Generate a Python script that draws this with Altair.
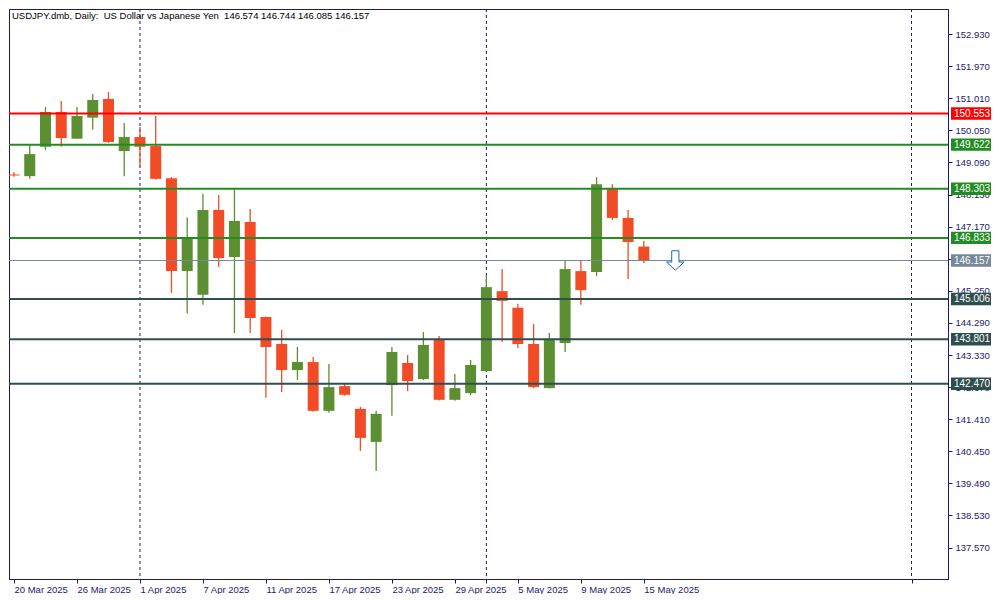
import altair as alt
import pandas as pd

# ---- data ----
dates = ["20 Mar", "21 Mar", "24 Mar", "25 Mar", "26 Mar", "27 Mar", "28 Mar", "31 Mar",
         "1 Apr", "2 Apr", "3 Apr", "4 Apr", "7 Apr", "8 Apr", "9 Apr", "10 Apr",
         "11 Apr", "14 Apr", "15 Apr", "16 Apr", "17 Apr", "18 Apr", "21 Apr", "22 Apr",
         "23 Apr", "24 Apr", "25 Apr", "28 Apr", "29 Apr", "30 Apr", "1 May", "2 May",
         "5 May", "6 May", "7 May", "8 May", "9 May", "12 May", "13 May", "14 May", "15 May"]
opens = [148.73, 148.68, 149.56, 150.60, 149.80, 150.43, 150.99, 149.43,
         149.85, 149.58, 148.62, 145.84, 145.13, 147.67, 146.26, 147.31,
         144.47, 143.66, 142.88, 143.12, 141.66, 142.40, 141.72, 140.73,
         142.43, 143.09, 142.61, 143.78, 141.99, 142.19, 142.85, 145.24,
         144.74, 143.66, 142.34, 143.69, 145.84, 145.81, 148.29, 147.43, 146.574]
highs = [148.80, 149.63, 150.75, 150.93, 150.75, 151.14, 151.20, 150.27,
         150.15, 150.48, 148.65, 147.44, 148.15, 148.12, 148.30, 147.70,
         144.48, 144.08, 143.57, 143.27, 143.06, 142.46, 141.78, 141.66,
         143.57, 143.33, 144.02, 143.90, 142.76, 143.18, 145.72, 145.90,
         144.86, 144.26, 143.99, 146.17, 146.17, 148.65, 148.44, 147.67, 146.744]
lows = [148.66, 148.60, 149.46, 149.56, 149.79, 150.07, 149.68, 148.68,
        148.95, 148.58, 145.19, 144.57, 144.83, 145.96, 143.99, 143.99,
        142.05, 142.22, 142.58, 141.63, 141.60, 142.11, 140.46, 139.86,
        141.51, 142.25, 142.58, 141.97, 141.96, 142.13, 142.84, 143.72,
        143.54, 142.34, 142.33, 143.42, 144.83, 145.69, 147.37, 145.60, 146.085]
closes = [148.70, 149.34, 150.60, 149.82, 150.48, 150.96, 149.70, 149.85,
          149.56, 148.60, 145.84, 146.84, 147.67, 146.23, 147.34, 144.44,
          143.57, 142.88, 143.12, 141.66, 142.37, 142.14, 140.85, 141.57,
          143.42, 142.55, 143.63, 141.99, 142.34, 143.03, 145.36, 144.95,
          143.66, 142.37, 143.81, 145.90, 145.27, 148.44, 147.43, 146.71, 146.157]

level_prices = [150.553, 149.622, 148.303, 146.833, 146.157, 145.006, 143.801, 142.470]
level_colors = ["#ff0000", "#228b22", "#228b22", "#228b22", "#778899", "#2f4f4f", "#2f4f4f", "#2f4f4f"]
level_widths = [2, 2, 2, 2, 1, 2, 2, 2]

y_ticks = [152.930, 151.970, 151.010, 150.050, 149.090, 148.130, 147.170, 146.210,
           145.250, 144.290, 143.330, 142.370, 141.410, 140.450, 139.490, 138.530, 137.570]
x_tick_labels = ["20 Mar 2025", "26 Mar 2025", "1 Apr 2025", "7 Apr 2025", "11 Apr 2025",
                 "17 Apr 2025", "23 Apr 2025", "29 Apr 2025", "5 May 2025", "9 May 2025",
                 "15 May 2025"]
separator_idx = [8, 30, 57]
signal_idx = [42]
signal_price = [146.157]
title_text = "USDJPY.dmb, Daily:\u00a0 US Dollar vs Japanese Yen\u00a0 146.574 146.744 146.085 146.157"

# ---- layout ----
W, H = 939, 570
NAVY = "#1a1a6e"
GREEN = "#5b8f31"
RED = "#f24c27"
FONT = "Liberation Sans"
FS = 9.5

df = pd.DataFrame({"i": list(range(len(dates))), "date": dates, "open": opens,
                   "high": highs, "low": lows, "close": closes})
df["dir"] = ["up" if c >= o else "down" for o, c in zip(opens, closes)]

lv = pd.DataFrame({"price": level_prices, "color": level_colors, "w": level_widths})
lv["top"] = lv["price"] + 0.185
lv["bot"] = lv["price"] - 0.185
lv["label"] = [f"{p:.3f}" for p in level_prices]

xscale = alt.Scale(domain=[0, 59], nice=False, zero=False)
yscale = alt.Scale(domain=[136.63, 153.68], nice=False, zero=False)

label_arr = "[" + ",".join(f"'{s}'" for s in x_tick_labels) + "]"
label_expr = f"(datum.value % 4 == 0 && datum.value <= 40) ? {label_arr}[datum.value / 4] : ''"

x_axis = alt.Axis(values=[0, 4, 8, 12, 16, 20, 24, 28, 30, 32, 36, 40, 57],
                  labelExpr=label_expr, labelAlign="left", labelFlush=False,
                  labelOverlap=False, tickSize=4, labelPadding=1, grid=False,
                  title=None, domainColor=NAVY, tickColor=NAVY, labelColor=NAVY,
                  labelFont=FONT, labelFontSize=FS)
y_axis = alt.Axis(orient="right", values=y_ticks, format=".3f", tickSize=4,
                  labelPadding=3, grid=False, title=None, domainColor=NAVY,
                  tickColor=NAVY, labelColor=NAVY, labelFont=FONT, labelFontSize=FS,
                  labelOverlap=False, labelBound=False, labelBaseline="middle")


def X(field):
    return alt.X(field, type="quantitative", scale=xscale, axis=x_axis)


def Y(field):
    return alt.Y(field, type="quantitative", scale=yscale, axis=y_axis)


color_scale = alt.Scale(domain=["up", "down"], range=[GREEN, RED])

base = alt.Chart(df)

sep = alt.Chart(pd.DataFrame({"i": separator_idx})).mark_rule(
    color=NAVY, strokeDash=[3, 3], strokeWidth=1).encode(x=X("i"))

wicks = base.mark_rule(strokeWidth=1.3, clip=True).encode(
    x=X("i"), y=Y("low"), y2="high:Q",
    color=alt.Color("dir:N", scale=color_scale, legend=None))

bodies = base.mark_bar(size=11, clip=True).encode(
    x=X("i"), y=Y("open"), y2="close:Q",
    color=alt.Color("dir:N", scale=color_scale, legend=None))

levels = alt.Chart(lv).mark_rule().encode(
    y=Y("price"),
    color=alt.Color("color:N", scale=None),
    strokeWidth=alt.StrokeWidth("w:Q", scale=None))

boxes = alt.Chart(lv).mark_rect(clip=False).encode(
    x=alt.value(W + 3), x2=alt.value(W + 43),
    y=Y("top"), y2="bot:Q",
    color=alt.Color("color:N", scale=None))

box_text = alt.Chart(lv).mark_text(align="left", baseline="middle", color="white",
                                   font=FONT, fontSize=10, clip=False).encode(
    x=alt.value(W + 6), y=Y("price"), text="label:N")

arrow_path = "M -0.37 -1 L 0.37 -1 L 0.37 0.16 L 0.9 0.16 L 0 1 L -0.9 0.16 L -0.37 0.16 Z"
arrow = alt.Chart(pd.DataFrame({"i": signal_idx, "p": signal_price})).mark_point(
    shape=arrow_path, size=380, filled=True, fill="white", stroke="#1f66b8",
    strokeWidth=1, opacity=1).encode(x=X("i"), y=Y("p"))

title = alt.Chart(pd.DataFrame({"t": [title_text]})).mark_text(
    align="left", baseline="top", font=FONT, fontSize=FS, color="black").encode(
    x=alt.value(3), y=alt.value(2), text="t:N")

chart = alt.layer(sep, wicks, bodies, levels, boxes, box_text, arrow, title).properties(
    width=W, height=H, padding=0, background="white"
).configure_view(stroke=NAVY, strokeWidth=1)

chart.save("out.html", embed_options={"renderer": "svg", "actions": False})
